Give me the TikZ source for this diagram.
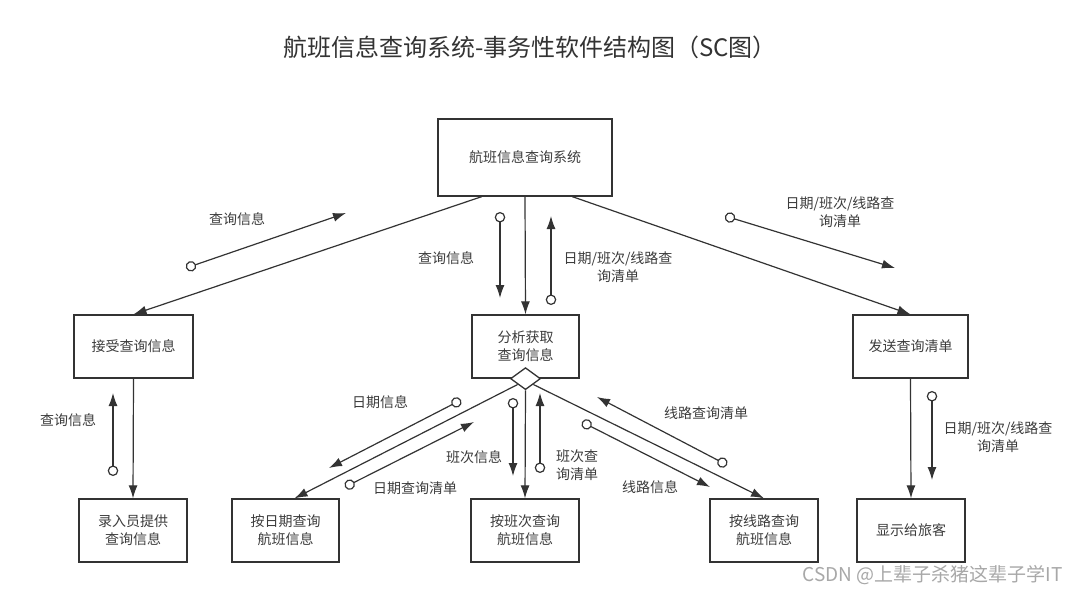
\documentclass[tikz,border=0pt]{standalone}
\usepackage{fontspec}
\setmainfont{Noto Sans CJK SC}
\usepackage{tikz}
\usetikzlibrary{arrows.meta,shapes.geometric,calc}
\definecolor{ink}{HTML}{333333}
\definecolor{txt}{HTML}{3C3C3C}
\definecolor{mark}{HTML}{A8A8A8}

\begin{document}
\begin{tikzpicture}[x=1pt, y=-1pt,
	box/.style={draw=ink, line width=1.3pt, fill=white, minimum height=63pt,
		inner sep=0pt, align=center, text=txt,
		font=\fontsize{14}{18}\selectfont},
	lbl/.style={text=txt, align=center, inner sep=0pt,
		font=\fontsize{14}{18}\selectfont},
	link/.style={draw=ink, line width=1.2pt, -{Latex[length=13pt,width=9pt]}},
	flow/.style={draw=ink, line width=1.2pt,
		{Circle[open,length=10.5pt,width=10.5pt,fill=white]}-{Latex[length=13pt,width=9pt]}}]
\useasboundingbox[fill=white] (0,0) rectangle (1077,594);

\node[text=ink, font=\fontsize{24}{27}\selectfont] (title) at (530,47)
	{航班信息查询系统-事务性软件结构图（SC图）};

% modules
\node[box, minimum width=174pt, minimum height=77pt] (sys) at (525,157.5) {航班信息查询系统};
\node[box, minimum width=119pt] (accept) at (133.5,346.5) {接受查询信息};
\node[box, minimum width=107pt] (analyse) at (525.5,346.5) {分析获取\\查询信息};
\node[box, minimum width=115pt] (send) at (910.5,346.5) {发送查询清单};
\node[box, minimum width=108pt] (input) at (133,530.5) {录入员提供\\查询信息};
\node[box, minimum width=107pt] (bydate) at (285.5,530.5) {按日期查询\\航班信息};
\node[box, minimum width=108pt] (byno) at (525,530.5) {按班次查询\\航班信息};
\node[box, minimum width=108pt] (byroute) at (764,530.5) {按线路查询\\航班信息};
\node[box, minimum width=108pt] (show) at (911,530.5) {显示给旅客};
\node[draw=ink, line width=1.3pt, fill=white, diamond, minimum width=30pt,
	minimum height=22pt, inner sep=0pt] (dia) at (analyse.south) {};

% calls
\draw[link] ($(sys.south west)!.253!(sys.south east)$) -- (accept.north);
\draw[link] (sys.south) -- (analyse.north);
\draw[link] ($(sys.south west)!.77!(sys.south east)$) -- (send.north);
\draw[link] (accept.south) -- (input.north);
\draw[link] (send.south) -- (show.north);
\draw[link] (dia.south west) -- ($(bydate.north)+(9,0)$);
\draw[link] (dia.south) -- (byno.north);
\draw[link] (dia.south east) -- (byroute.north);

% data flows
\foreach \n/\a/\b/\c/\d in {1/186/268/346/213, 2/500/212/500/298, 3/551/305/551/216,
	4/725/216/895/268, 5/113/476/113/393, 6/932/391/932/480, 7/461/400/329/468,
	8/345/487/474/422, 9/513/398/513/476, 10/540/473/540/393, 11/727/465/597/397,
	12/582/422/710/487}{
	\coordinate (f\n s) at (\a,\b);
	\coordinate (f\n e) at (\c,\d);
	\draw[flow] (f\n s) -- (f\n e);
}

\node[lbl] (l1) at (237,219) {查询信息};
\node[lbl] (l2) at (446,258) {查询信息};
\node[lbl] (l3) at (618,267) {日期/班次/线路查\\询清单};
\node[lbl] (l4) at (840,212) {日期/班次/线路查\\询清单};
\node[lbl] (l5) at (68,420) {查询信息};
\node[lbl] (l6) at (998,437) {日期/班次/线路查\\询清单};
\node[lbl] (l7) at (380,402) {日期信息};
\node[lbl] (l8) at (415,488) {日期查询清单};
\node[lbl] (l9) at (474,457) {班次信息};
\node[lbl] (l10) at (577,465) {班次查\\询清单};
\node[lbl] (l11) at (706,413) {线路查询清单};
\node[lbl] (l12) at (650,487) {线路信息};

\node[text=mark, anchor=east, inner sep=0pt, font=\fontsize{19}{22}\selectfont]
	(wm) at (1063,575) {CSDN @上辈子杀猪这辈子学IT};
\end{tikzpicture}
\end{document}
